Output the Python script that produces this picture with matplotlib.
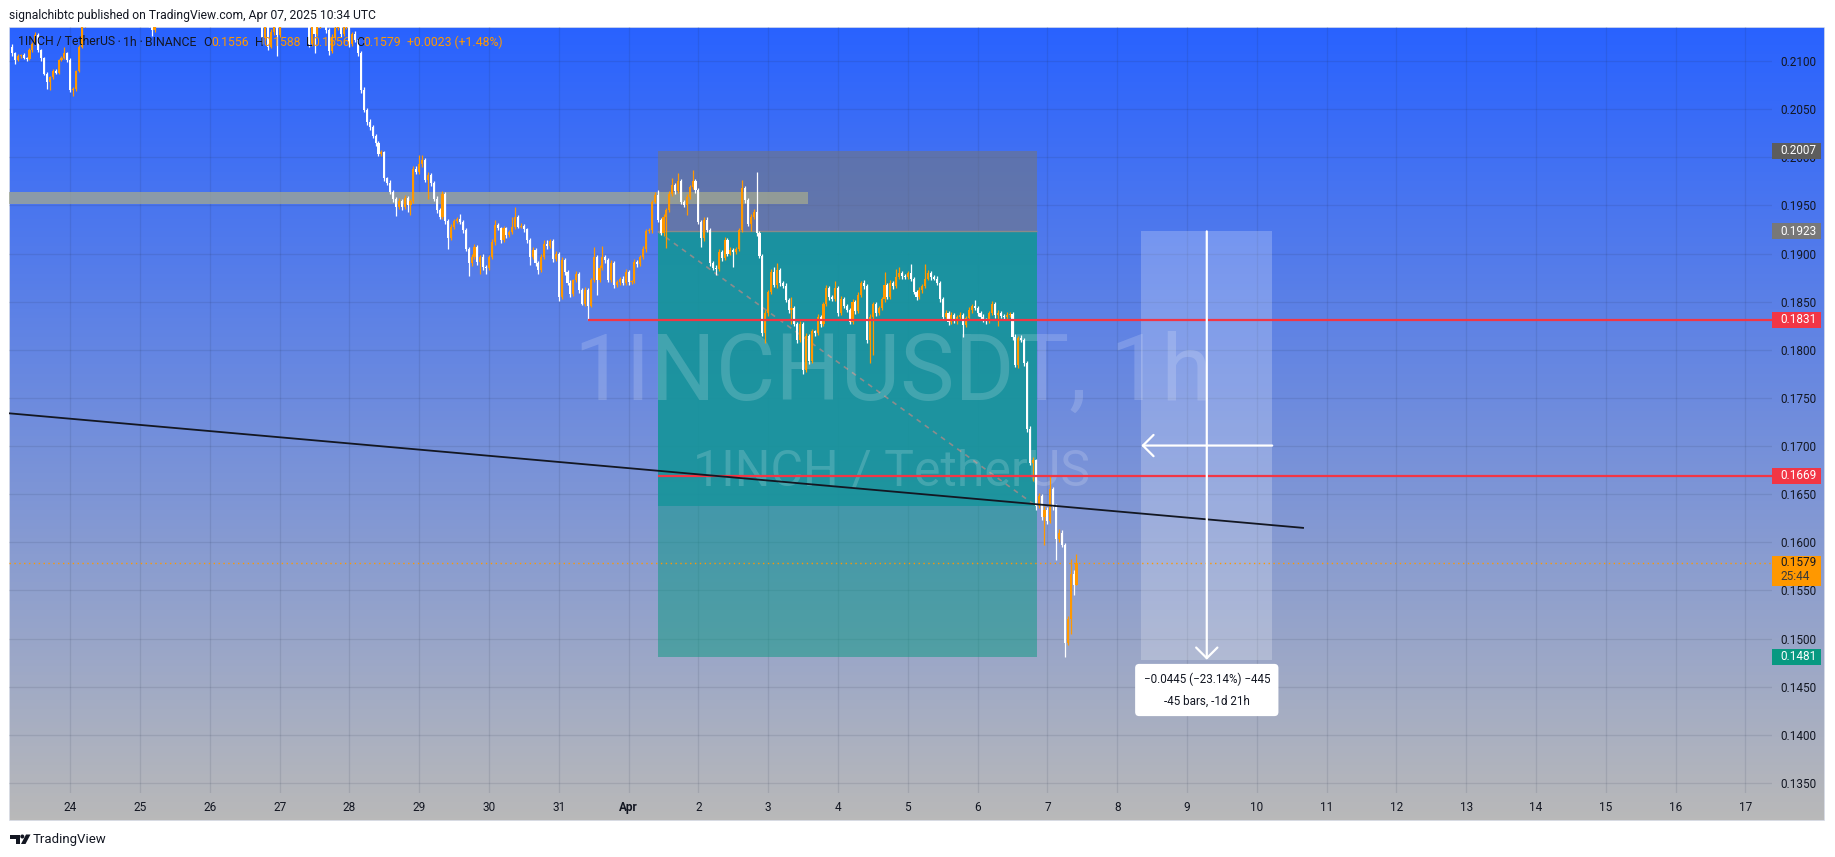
import numpy as np
import matplotlib
matplotlib.use("Agg")
import matplotlib.pyplot as plt
from matplotlib.patches import Rectangle, Polygon, Circle
from matplotlib.colors import LinearSegmentedColormap

plt.rcParams['font.family'] = ['Roboto', 'DejaVu Sans']

# ---------------------------------------------------------------- data
# 1h candles, hour index counted from 24 Mar 2025 00:00 UTC
first_hour = -20
first_open = 0.2115

closes = [
    # 23 Mar (04:00 ->)
    0.2108, 0.2101, 0.2105, 0.2106, 0.2103, 0.2102, 0.2111, 0.2118, 0.2127, 0.2111,
    0.2103, 0.2087, 0.2078, 0.2083, 0.2090, 0.2088, 0.2101, 0.2103, 0.2108, 0.2101,
    # 24 Mar
    0.2070, 0.2071, 0.2090, 0.2115, 0.2138, 0.2150, 0.2158, 0.2163, 0.2155, 0.2160, 0.2168, 0.2172,
    0.2165, 0.2160, 0.2166, 0.2158, 0.2152, 0.2157, 0.2150, 0.2146, 0.2150, 0.2145, 0.2148, 0.2142,
    # 25 Mar
    0.2145, 0.2140, 0.2143, 0.2138, 0.2132, 0.2140, 0.2146, 0.2152, 0.2158, 0.2155, 0.2162, 0.2168,
    0.2164, 0.2170, 0.2175, 0.2169, 0.2163, 0.2166, 0.2160, 0.2155, 0.2158, 0.2152, 0.2156, 0.2150,
    # 26 Mar
    0.2154, 0.2160, 0.2157, 0.2152, 0.2148, 0.2151, 0.2146, 0.2149, 0.2144, 0.2147, 0.2152, 0.2148,
    0.2153, 0.2150, 0.2155, 0.2150, 0.2146, 0.2141, 0.2124, 0.2138, 0.2115, 0.2130, 0.2142, 0.2127,
    # 27 Mar
    0.2140, 0.2150, 0.2155, 0.2160, 0.2152, 0.2158, 0.2163, 0.2157, 0.2150, 0.2146, 0.2118, 0.2141,
    0.2128, 0.2137, 0.2145, 0.2139, 0.2132, 0.2110, 0.2125, 0.2134, 0.2142, 0.2128, 0.2136, 0.2141,
    # 28 Mar
    0.2118, 0.2128, 0.2122, 0.2108, 0.2070, 0.2049, 0.2037, 0.2031, 0.2022, 0.2015, 0.2003, 0.2005,
    0.1978, 0.1973, 0.1964, 0.1957, 0.1948, 0.1955, 0.1948, 0.1958, 0.1950, 0.1955, 0.1988, 0.1985,
    # 29 Mar
    0.1993, 0.1997, 0.1976, 0.1982, 0.1973, 0.1957, 0.1945, 0.1938, 0.1962, 0.1934, 0.1916, 0.1928,
    0.1934, 0.1936, 0.1933, 0.1924, 0.1905, 0.1890, 0.1896, 0.1907, 0.1891, 0.1896, 0.1886, 0.1885,
    # 30 Mar
    0.1896, 0.1912, 0.1930, 0.1926, 0.1914, 0.1926, 0.1919, 0.1922, 0.1928, 0.1938, 0.1928, 0.1929,
    0.1925, 0.1914, 0.1896, 0.1904, 0.1890, 0.1883, 0.1896, 0.1910, 0.1908, 0.1913, 0.1894, 0.1900,
    # 31 Mar
    0.1855, 0.1893, 0.1881, 0.1869, 0.1858, 0.1872, 0.1879, 0.1862, 0.1848, 0.1862, 0.1846, 0.1872,
    0.1896, 0.1872, 0.1885, 0.1896, 0.1893, 0.1872, 0.1890, 0.1867, 0.1870, 0.1874, 0.1869, 0.1881,
    # 1 Apr
    0.1870, 0.1871, 0.1891, 0.1889, 0.1896, 0.1905, 0.1923, 0.1924, 0.1954, 0.1961, 0.1935, 0.1921,
    0.1938, 0.1945, 0.1962, 0.1971, 0.1965, 0.1975, 0.1954, 0.1950, 0.1959, 0.1969, 0.1975, 0.1966,
    # 2 Apr
    0.1933, 0.1916, 0.1935, 0.1924, 0.1890, 0.1885, 0.1884, 0.1902, 0.1895, 0.1914, 0.1900, 0.1904,
    0.1902, 0.1905, 0.1924, 0.1968, 0.1956, 0.1931, 0.1938, 0.1943, 0.1921, 0.1897, 0.1817, 0.1838,
    # 3 Apr
    0.1860, 0.1881, 0.1867, 0.1883, 0.1869, 0.1866, 0.1852, 0.1841, 0.1843, 0.1827, 0.1810, 0.1827,
    0.1779, 0.1814, 0.1788, 0.1819, 0.1817, 0.1834, 0.1827, 0.1848, 0.1864, 0.1855, 0.1853, 0.1864,
    # 4 Apr
    0.1838, 0.1853, 0.1846, 0.1841, 0.1829, 0.1850, 0.1840, 0.1857, 0.1869, 0.1866, 0.1810, 0.1834,
    0.1848, 0.1838, 0.1843, 0.1853, 0.1867, 0.1855, 0.1869, 0.1866, 0.1876, 0.1880, 0.1877, 0.1876,
    # 5 Apr
    0.1880, 0.1874, 0.1860, 0.1855, 0.1862, 0.1866, 0.1874, 0.1880, 0.1876, 0.1874, 0.1869, 0.1853,
    0.1834, 0.1838, 0.1829, 0.1836, 0.1830, 0.1834, 0.1836, 0.1826, 0.1833, 0.1841, 0.1846, 0.1843,
    # 6 Apr
    0.1838, 0.1834, 0.1831, 0.1830, 0.1838, 0.1848, 0.1836, 0.1838, 0.1835, 0.1834, 0.1836, 0.1837,
    0.1813, 0.1784, 0.1812, 0.1810, 0.1786, 0.1718, 0.1682, 0.1685, 0.1638, 0.1648, 0.1626, 0.1634,
    # 7 Apr
    0.1622, 0.1655, 0.1637, 0.1603, 0.1610, 0.1597, 0.1495, 0.1520, 0.1567, 0.1556, 0.1579,
]

# wick lengths above / below the body, in units of 0.0001
wick_hi = [
    3, 1, 2, 1, 2, 1, 2, 2, 3, 2, 1, 1, 2, 1, 2, 2, 1, 2, 7, 1,
    2, 2, 1, 2, 3, 2, 3, 2, 2, 3, 2, 4, 2, 2, 3, 2, 2, 3, 2, 2, 3, 2, 2, 2,
    2, 3, 2, 2, 3, 2, 2, 3, 2, 3, 2, 3, 2, 3, 4, 2, 2, 3, 2, 2, 3, 2, 2, 3,
    2, 3, 2, 2, 3, 2, 2, 3, 2, 2, 3, 2, 3, 2, 3, 2, 2, 3, 2, 3, 2, 3, 4, 2,
    2, 3, 2, 3, 2, 2, 3, 2, 2, 3, 2, 3, 2, 2, 3, 2, 2, 2, 3, 2, 3, 2, 2, 3,
    3, 2, 3, 2, 2, 3, 2, 3, 2, 2, 2, 3, 2, 2, 3, 2, 2, 3, 2, 3, 2, 2, 3, 3,
    9, 5, 2, 3, 2, 2, 3, 2, 3, 2, 2, 3, 2, 2, 5, 2, 3, 2, 3, 3, 2, 2, 3, 2,
    2, 3, 5, 2, 2, 3, 2, 2, 10, 10, 2, 3, 2, 2, 2, 3, 2, 2, 3, 4, 4, 2, 2, 3,
    2, 3, 2, 2, 3, 2, 3, 2, 2, 3, 2, 3, 11, 2, 3, 12, 2, 2, 3, 2, 2, 2, 3, 3,
    2, 2, 3, 2, 2, 3, 2, 3, 2, 3, 5, 2, 3, 2, 3, 7, 2, 9, 2, 2, 3, 2, 12, 2,
    2, 2, 3, 3, 2, 2, 3, 3, 2, 3, 2, 3, 2, 2, 3, 8, 2, 2, 3, 3, 42, 2, 2, 3,
    2, 3, 5, 7, 2, 2, 3, 2, 12, 2, 2, 3, 2, 3, 2, 3, 2, 3, 2, 2, 3, 2, 2, 7,
    2, 3, 2, 2, 2, 3, 2, 3, 2, 3, 2, 3, 2, 2, 3, 2, 14, 2, 3, 2, 8, 6, 2, 2,
    2, 9, 2, 2, 3, 2, 15, 3, 2, 2, 3, 2, 2, 3, 2, 3, 2, 2, 3, 2, 2, 3, 2, 6,
    2, 2, 3, 2, 2, 3, 2, 3, 2, 2, 3, 2, 2, 3, 2, 3, 2, 2, 3, 4, 2, 3, 2, 4,
    3, 15, 2, 3, 4, 3, 2, 3, 16, 4, 9,
]
wick_lo = [
    3, 4, 1, 2, 1, 2, 1, 2, 1, 2, 3, 2, 7, 8, 2, 1, 2, 1, 1, 2,
    2, 6, 2, 1, 2, 3, 2, 3, 4, 2, 3, 2, 3, 4, 2, 3, 4, 2, 3, 4, 2, 3, 2, 3,
    3, 2, 3, 3, 6, 2, 3, 2, 3, 3, 2, 3, 3, 2, 3, 2, 3, 2, 3, 3, 2, 3, 2, 3,
    3, 2, 3, 3, 2, 3, 3, 2, 3, 2, 2, 3, 2, 3, 2, 3, 3, 2, 6, 2, 4, 2, 3, 22,
    2, 3, 3, 2, 3, 2, 3, 3, 2, 3, 3, 2, 20, 2, 3, 2, 3, 4, 2, 3, 2, 3, 2, 3,
    3, 2, 2, 3, 3, 2, 4, 3, 2, 3, 2, 2, 3, 2, 2, 3, 9, 2, 3, 2, 7, 10, 2, 2,
    2, 3, 2, 19, 3, 2, 3, 2, 2, 3, 11, 2, 3, 2, 2, 3, 2, 13, 3, 2, 3, 12, 3, 6,
    2, 2, 3, 2, 3, 2, 3, 2, 2, 3, 2, 2, 3, 3, 8, 2, 3, 4, 2, 2, 3, 2, 3, 2,
    4, 2, 3, 2, 3, 2, 2, 3, 1, 2, 15, 2, 2, 15, 2, 2, 3, 2, 2, 3, 2, 3, 2, 2,
    3, 2, 2, 3, 2, 2, 3, 2, 3, 2, 2, 2, 3, 32, 2, 2, 3, 2, 3, 2, 10, 2, 2, 3,
    2, 9, 3, 2, 3, 2, 6, 2, 3, 2, 3, 2, 16, 2, 2, 2, 3, 2, 8, 2, 3, 2, 3, 10,
    3, 2, 2, 3, 3, 2, 2, 3, 14, 2, 3, 2, 4, 2, 3, 2, 3, 2, 3, 2, 2, 3, 2, 2,
    3, 2, 3, 2, 2, 2, 3, 2, 2, 3, 3, 24, 39, 3, 2, 2, 3, 2, 2, 3, 2, 2, 3, 2,
    2, 3, 2, 3, 2, 3, 2, 2, 3, 2, 2, 3, 2, 2, 3, 2, 2, 3, 2, 13, 2, 2, 3, 2,
    3, 2, 2, 3, 2, 2, 3, 11, 2, 3, 2, 2, 3, 2, 3, 2, 3, 3, 2, 18, 4, 2, 3, 29,
    3, 2, 3, 21, 3, 2, 14, 2, 15, 11, 0,
]

day_labels = ['24', '25', '26', '27', '28', '29', '30', '31', 'Apr', '2', '3', '4', '5',
              '6', '7', '8', '9', '10', '11', '12', '13', '14', '15', '16', '17']
price_ticks = [0.1350, 0.1400, 0.1450, 0.1500, 0.1550, 0.1600, 0.1650, 0.1700,
               0.1750, 0.1800, 0.1850, 0.1900, 0.1950, 0.2000, 0.2050, 0.2100]

# short position tool
pos_start, pos_end = 202.0, 332.4
pos_entry, pos_stop, pos_target = 0.1923, 0.2007, 0.1481
pos_close = 0.1638
# horizontal levels
red_levels = [0.1831, 0.1669]
red_starts = [178, 202]
band_low, band_high, band_end = 0.1951, 0.1964, 253.7
last_price = 0.1579
# trend line
trend_x = [-21.0, 423.9]
trend_y = [0.1734, 0.1615]
# price range measure
meas_x0, meas_x1 = 368.3, 413.3
meas_top, meas_bottom = 0.1923, 0.1478

# ---------------------------------------------------------------- geometry (pixels)
W, H = 1835, 857
PL, PR, PT, PB = 9, 1772, 27, 793         # pane
FR, FB = 1825, 821                       # outer frame (incl. scales)
PX_H = 69.8 / 24                         # px per hour
X24 = 70.2                               # px of 24 Mar 00:00
DPP = 0.005 / 48.13                      # price per px
Y21 = 61                                 # px of 0.2100


def py(y):
    return 0.21 - (y - Y21) * DPP


fig = plt.figure(figsize=(W / 100, H / 100), dpi=100)
fig.patch.set_facecolor('white')

# background gradient
bg = fig.add_axes([PL / W, 1 - FB / H, (FR - PL) / W, (FB - PT) / H])
cmap = LinearSegmentedColormap.from_list('tvbg', ['#2962FF', '#B9B9B9'])
bg.imshow(np.linspace(0, 1, 256).reshape(-1, 1), aspect='auto', cmap=cmap,
          extent=[0, 1, 0, 1], origin='upper')
bg.add_patch(Rectangle((0, 0), 1, 1, transform=bg.transAxes, fill=False,
                       ec='#dfe3ec', lw=1.2))
bg.set_axis_off()

ax = fig.add_axes([PL / W, 1 - PB / H, (PR - PL) / W, (PB - PT) / H])
ax.set_facecolor('none')
xmin, xmax = (PL - X24) / PX_H, (PR - X24) / PX_H
ax.set_xlim(xmin, xmax)
ax.set_ylim(py(PB), py(PT))
for s in ax.spines.values():
    s.set_visible(False)

ax.set_yticks(price_ticks)
ax.set_yticklabels([f'{p:.4f}' for p in price_ticks])
ax.yaxis.tick_right()
ax.tick_params(axis='y', length=0, pad=6, labelsize=8.5, labelcolor='#131722')
ax.set_xticks([24 * k for k in range(len(day_labels))])
ax.set_xticklabels(day_labels)
ax.tick_params(axis='x', length=0, pad=6, labelsize=8.5, labelcolor='#131722')
ax.get_xticklabels()[day_labels.index('Apr')].set_fontweight('bold')
ax.grid(True, color='#1e2a44', alpha=0.11, lw=0.9)
ax.set_axisbelow(True)

# ---------------------------------------------------------------- drawings
# gray band
ax.add_patch(Rectangle((xmin, band_low), band_end - xmin, band_high - band_low,
                       fc='#a3a890', alpha=0.75, lw=0, zorder=3))
# short position
pw = pos_end - pos_start
ax.add_patch(Rectangle((pos_start, pos_entry), pw, pos_stop - pos_entry,
                       fc='#767676', alpha=0.55, lw=0, zorder=2))
ax.add_patch(Rectangle((pos_start, pos_close), pw, pos_entry - pos_close,
                       fc='#16949a', alpha=0.92, lw=0, zorder=2))
ax.add_patch(Rectangle((pos_start, pos_target), pw, pos_close - pos_target,
                       fc='#089981', alpha=0.5, lw=0, zorder=2))
ax.hlines(pos_entry, pos_start, pos_end, color='#8a8a8a', lw=1, zorder=2.5)
ax.plot([pos_start, pos_end - 0.4], [pos_entry, pos_close], ls=(0, (3, 3)),
        color='#8c8c8c', lw=1.2, zorder=3)

# price range measure
ax.add_patch(Rectangle((meas_x0, meas_bottom), meas_x1 - meas_x0, meas_top - meas_bottom,
                       fc='white', alpha=0.22, lw=0, zorder=2))
mx = (meas_x0 + meas_x1) / 2
my = (meas_top + meas_bottom) / 2
arrow = dict(arrowstyle='->,head_length=0.45,head_width=0.45', color='white', lw=1.6,
             shrinkA=0, shrinkB=0, mutation_scale=17)
ax.annotate('', xy=(mx, meas_bottom), xytext=(mx, meas_top), arrowprops=arrow, zorder=7)
ax.annotate('', xy=(meas_x0, my), xytext=(meas_x1, my), arrowprops=arrow, zorder=7)
ax.text(mx, py(690), '\u22120.0445 (\u221223.14%) \u2212445\n-45 bars, -1d 21h',
        ha='center', va='center', fontsize=8.4, color='#131722', linespacing=1.9,
        zorder=8, bbox=dict(boxstyle='round,pad=0.72,rounding_size=0.35', fc='white', ec='none'))

# watermark
ax.text((893 - X24) / PX_H, py(400), '1INCHUSDT, 1h', ha='center', va='baseline',
        fontsize=66, color='white', alpha=0.17, zorder=3.5)
ax.text((891 - X24) / PX_H, py(485), '1INCH / TetherUS', ha='center', va='baseline',
        fontsize=36, color='white', alpha=0.17, zorder=3.5)

# candles
hours = np.arange(first_hour, first_hour + len(closes))
c = np.array(closes)
o = np.concatenate([[first_open], c[:-1]])
top = np.maximum(o, c)
bot = np.minimum(o, c)
highs = top + np.array(wick_hi) * 1e-4
lows = bot - np.array(wick_lo) * 1e-4
cols = np.where(c >= o, '#FF9800', '#FFFFFF')
ax.vlines(hours, lows, highs, colors=cols, lw=0.9, zorder=4)
ax.bar(hours, np.maximum(top - bot, 0.00004), bottom=bot, width=0.72, color=cols,
       lw=0, zorder=5)

# lines
for lvl, x0 in zip(red_levels, red_starts):
    ax.hlines(lvl, x0, xmax, color='#F23645', lw=1.6, zorder=6)
ax.plot(trend_x, trend_y, color='#131722', lw=1.3, zorder=6)
ax.axhline(last_price, color='#FF9800', ls=(0, (1, 2.5)), lw=1, zorder=4)

# price scale tags
yt = ax.get_yaxis_transform()
tag_w = (1821 - PL) / (PR - PL) - 1.0
tx = (1780 - PL) / (PR - PL)


def price_tag(p, txt, fc, tc):
    half = 8 * DPP
    ax.add_patch(Rectangle((1.0, p - half), tag_w, 2 * half, transform=yt, clip_on=False,
                           fc=fc, lw=0, zorder=10))
    ax.text(tx, p, txt, transform=yt, ha='left', va='center', fontsize=8.5, color=tc,
            clip_on=False, zorder=11)


price_tag(0.2007, '0.2007', '#5d5d5d', 'white')
price_tag(0.1923, '0.1923', '#787878', 'white')
price_tag(0.1831, '0.1831', '#F23645', 'white')
price_tag(0.1669, '0.1669', '#F23645', 'white')
price_tag(0.1481, '0.1481', '#089981', 'white')
ax.add_patch(Rectangle((1.0, py(586)), tag_w, 30 * DPP, transform=yt, clip_on=False,
                       fc='#FF9800', lw=0, zorder=10))
ax.text(tx, last_price, '0.1579', transform=yt, ha='left', va='center', fontsize=8.5,
        color='#131722', clip_on=False, zorder=11)
ax.text(tx, py(577), '25:44', transform=yt, ha='left', va='center', fontsize=8.5,
        color='#3a3a3a', clip_on=False, zorder=11)

# ---------------------------------------------------------------- header / legend / footer
fig.text(PL / W, 1 - 15 / H, 'signalchibtc published on TradingView.com, Apr 07, 2025 10:34 UTC',
         fontsize=8.7, color='#131722', va='center')

dark, orange = '#131722', '#FF9800'
pieces = [('1INCH / TetherUS', dark, 0), ('\u2022', dark, 2), ('1h', dark, 2),
          ('\u2022', dark, 2), ('BINANCE', dark, 2),
          ('O', dark, 5), ('0.1556', orange, 0),
          ('H', dark, 4), ('0.1588', orange, 0),
          ('L', dark, 4), ('0.1556', orange, 0),
          ('C', dark, 4), ('0.1579', orange, 0),
          ('+0.0023 (+1.48%)', orange, 4)]
prev = fig.text(18 / W, 1 - 42 / H, pieces[0][0], fontsize=8.8, color=pieces[0][1],
                va='center', zorder=12)
for txt, col, gap in pieces[1:]:
    fs = 5 if txt == '\u2022' else 8.8
    prev = ax.annotate(txt, xy=(1, 0.5), xycoords=prev, xytext=(gap, 0),
                       textcoords='offset points', ha='left', va='center',
                       fontsize=fs, color=col, zorder=12, annotation_clip=False)

ov = fig.add_axes([0, 0, 1, 1], zorder=-5)
ov.set_xlim(0, W)
ov.set_ylim(H, 0)
ov.set_axis_off()
ov.add_patch(Polygon([(10, 834.5), (19.5, 834.5), (19.5, 844), (15.5, 844), (15.5, 838.5),
                      (10, 838.5)], closed=True, fc='#131722', lw=0))
ov.add_patch(Circle((22.3, 836.5), 2.0, fc='#131722', lw=0))
ov.add_patch(Polygon([(26, 834.5), (30.5, 834.5), (25.5, 844), (21, 844)], closed=True,
                     fc='#131722', lw=0))
fig.text(33 / W, 1 - 839.5 / H, 'TradingView', fontsize=9.5, color='#131722', va='center')

fig.savefig('out.png', dpi=100, facecolor='white')
